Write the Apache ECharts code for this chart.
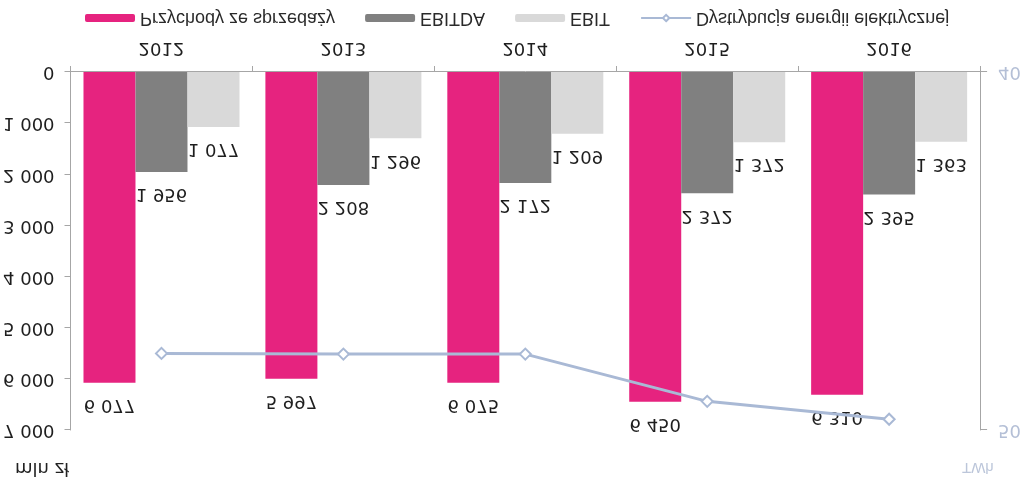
<!DOCTYPE html>
<html>
<head>
<meta charset="utf-8">
<script src="https://cdn.jsdelivr.net/npm/echarts@6/dist/echarts.min.js"></script>
<style>
html,body{margin:0;padding:0;background:#fff;}
#chart{width:1024px;height:481px;transform:scaleY(-1);}
</style>
</head>
<body>
<div id="chart"></div>
<script>
var categories = ['2012', '2013', '2014', '2015', '2016'];
var revenue = [6077, 5997, 6075, 6450, 6310];
var ebitda = [1956, 2208, 2172, 2372, 2395];
var ebit = [1077, 1296, 1209, 1372, 1363];
var distribution = [47.86, 47.88, 47.88, 49.2, 49.7];
var seriesNames = ['Przychody ze sprzedaży', 'EBITDA', 'EBIT', 'Dystrybucja energii elektrycznej'];
var leftUnit = 'mln zł';
var rightUnit = 'TWh';

var FONT = 'Liberation Sans, Arial, sans-serif';
var NUMFONT = 'DejaVu Sans, sans-serif';
function fmt(v) {
  return String(v).replace(/\B(?=(\d{3})+(?!\d))/g, ' ');
}
var labelCfg = {
  show: true, position: 'top', distance: 13,
  color: '#1e1e1e', fontSize: 18, fontFamily: NUMFONT,
  formatter: function (p) { return fmt(p.value); }
};
var chart = echarts.init(document.getElementById('chart'), null, {renderer: 'canvas'});
chart.setOption({
  animation: false,
  backgroundColor: '#ffffff',
  textStyle: {fontFamily: FONT},
  grid: {left: 68, right: 41, top: 51, bottom: 72, containLabel: false},
  legend: {
    bottom: 4, left: 80, itemWidth: 50, itemHeight: 8, itemGap: 30,
    textStyle: {fontSize: 18, color: '#2a2a2a', fontFamily: FONT},
    data: seriesNames
  },
  graphic: [
    {type: 'text', left: 15, top: 4, style: {text: leftUnit, font: '18px DejaVu Sans', fill: '#222'}},
    {type: 'text', left: 962, top: 6, style: {text: rightUnit, font: '15px Liberation Sans', fill: '#bcc6da'}}
  ],
  xAxis: {
    type: 'category', data: categories,
    axisLine: {lineStyle: {color: '#a6a6a6', width: 1}},
    axisTick: {show: true, length: 6, lineStyle: {color: '#a6a6a6'}},
    axisLabel: {color: '#1e1e1e', fontSize: 18, margin: 15, fontFamily: NUMFONT}
  },
  yAxis: [
    {
      type: 'value', min: 0, max: 7000, interval: 1000,
      axisLine: {show: true, lineStyle: {color: '#a6a6a6'}},
      axisTick: {show: true, length: 6, lineStyle: {color: '#a6a6a6'}},
      splitLine: {show: false},
      axisLabel: {color: '#1e1e1e', fontSize: 18, margin: 16, fontFamily: NUMFONT, formatter: fmt}
    },
    {
      type: 'value', min: 40, max: 50, interval: 10, position: 'right',
      axisLine: {show: true, lineStyle: {color: '#a6a6a6'}},
      axisTick: {show: true, length: 7, lineStyle: {color: '#a6a6a6'}},
      splitLine: {show: false},
      axisLabel: {color: '#b4bfd6', fontSize: 18, margin: 18, fontFamily: NUMFONT}
    }
  ],
  series: [
    {name: seriesNames[0], type: 'bar', data: revenue, barWidth: 52, barGap: '0%',
      itemStyle: {color: '#e6237f'}, label: labelCfg},
    {name: seriesNames[1], type: 'bar', data: ebitda, barWidth: 52, barGap: '0%',
      itemStyle: {color: '#808080'}, label: labelCfg},
    {name: seriesNames[2], type: 'bar', data: ebit, barWidth: 52, barGap: '0%',
      itemStyle: {color: '#d9d9d9'}, label: labelCfg},
    {name: seriesNames[3], type: 'line', yAxisIndex: 1, data: distribution, z: 5,
      lineStyle: {color: '#a9b9d5', width: 3},
      itemStyle: {color: '#ffffff', borderColor: '#a9b9d5', borderWidth: 2},
      symbol: 'diamond', symbolSize: 11, showAllSymbol: true}
  ]
});
</script>
</body>
</html>
